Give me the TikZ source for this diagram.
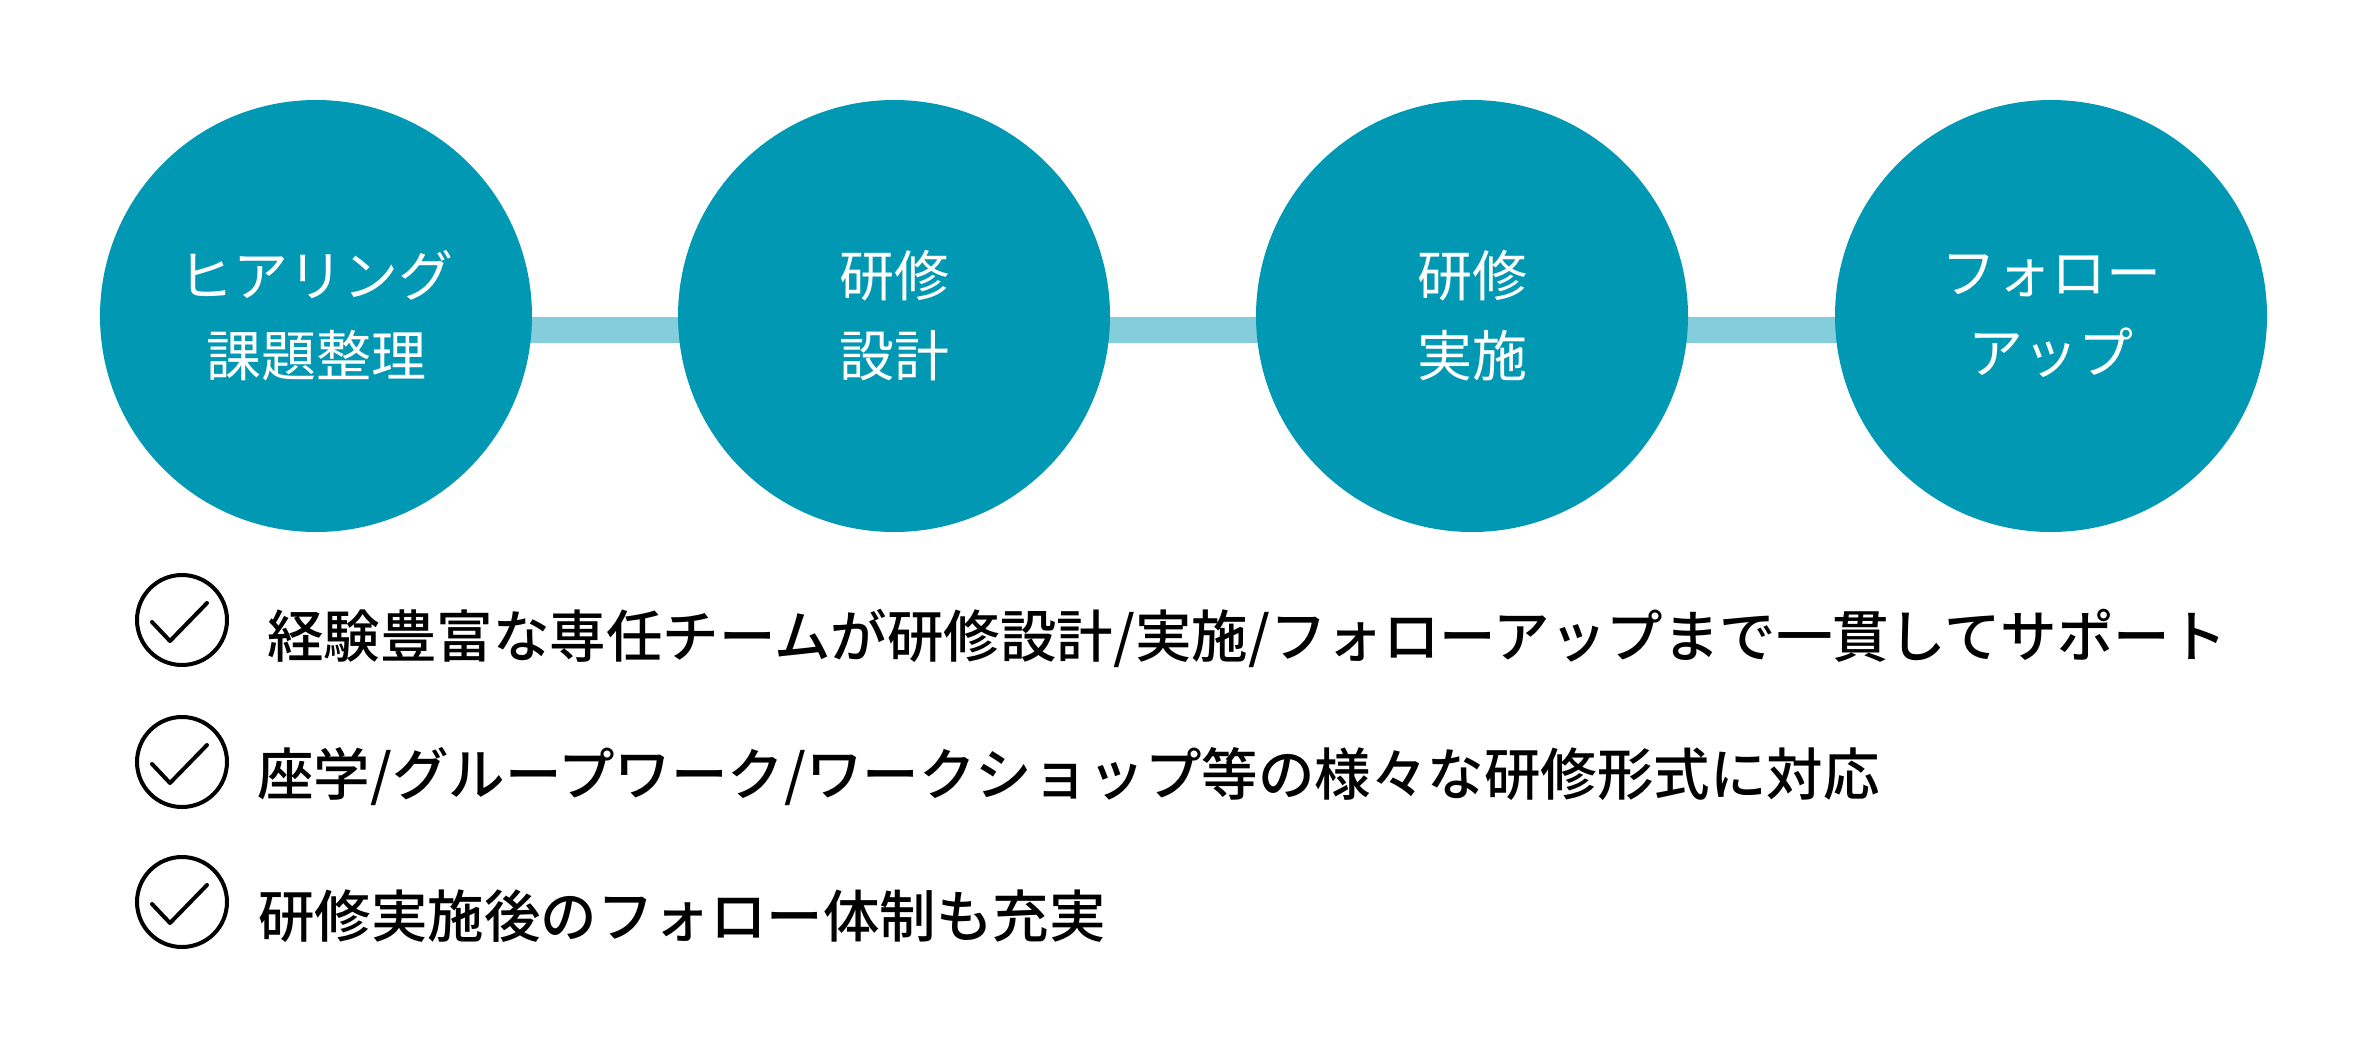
\documentclass[tikz,border=0pt]{standalone}
\usepackage{fontspec}
\newfontfamily\jp{Noto Sans CJK JP}
\newfontfamily\jpm{Noto Sans CJK JP Medium}
\usetikzlibrary{backgrounds,calc}
\definecolor{stepteal}{HTML}{0098B3}
\definecolor{barteal}{HTML}{84CDDA}
\tikzset{
  stepcircle/.style={circle, fill=stepteal, minimum size=432pt, inner sep=0pt,
    text=white, align=center, font=\jp\fontsize{55}{80}\selectfont},
  linkbar/.style={draw=barteal, line width=26pt},
  checkring/.style={circle, draw=black, line width=4pt, minimum size=90pt, inner sep=0pt},
  checkmark/.style={draw=black, line width=4pt, line cap=round, line join=round},
  rowtext/.style={anchor=base west, inner sep=0pt, text=black, font=\jpm\fontsize{56.5}{66}\selectfont}
}
\begin{document}
\begin{tikzpicture}[x=1pt,y=-1pt]
\useasboundingbox (0,0) rectangle (2368,1052);
\node[stepcircle] (c1) at (316,316) {ヒアリング\\課題整理};
\node[stepcircle] (c2) at (894,316) {研修\\設計};
\node[stepcircle] (c3) at (1472,316) {研修\\実施};
\node[stepcircle] (c4) at (2051,316) {フォロー\\アップ};
\begin{scope}[on background layer]
\draw[linkbar] ([yshift=-14pt]c1.center) -- ([yshift=-14pt]c2.center);
\draw[linkbar] ([yshift=-14pt]c2.center) -- ([yshift=-14pt]c3.center);
\draw[linkbar] ([yshift=-14pt]c3.center) -- ([yshift=-14pt]c4.center);
\end{scope}
\foreach \i/\y in {1/620,2/762,3/902}{
  \node[checkring] (k\i) at (182,\y) {};
  \draw[checkmark] ($(k\i.center)+(-30,2)$) -- ($(k\i.center)+(-12,21)$) -- ($(k\i.center)+(25,-17)$);
}
\node[rowtext] (t1) at (267,657) {経験豊富な専任チームが研修設計/実施/フォローアップまで一貫してサポート};
\node[rowtext] (t2) at (257,795) {座学/グループワーク/ワークショップ等の様々な研修形式に対応};
\node[rowtext] (t3) at (258,937) {研修実施後のフォロー体制も充実};
\end{tikzpicture}
\end{document}
